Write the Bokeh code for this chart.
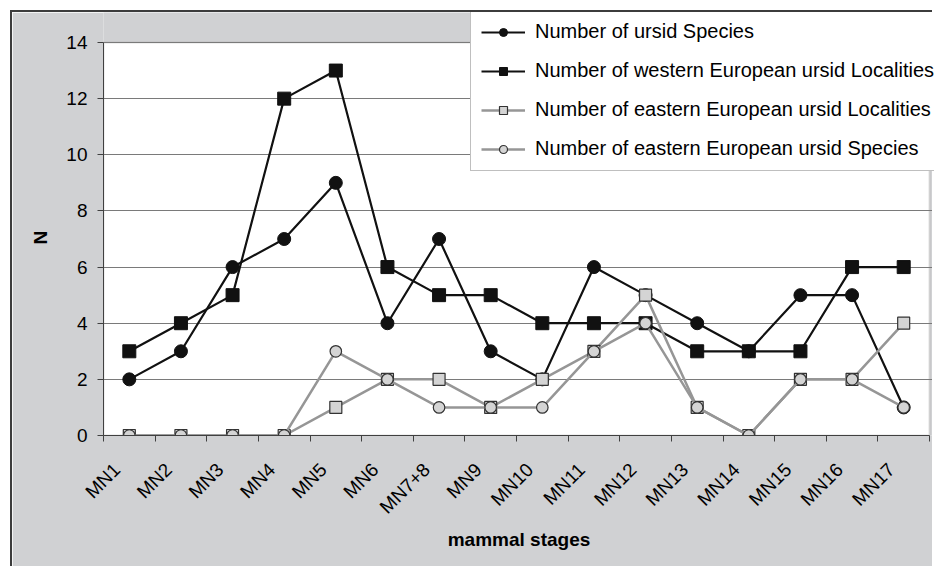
import numpy as np
from bokeh.plotting import figure
from bokeh.models import (Range1d, FixedTicker, Legend, LegendItem, ColumnDataSource,
                          BoxAnnotation, Title)
from bokeh.embed import file_html
from bokeh.resources import INLINE

stages = ["MN1", "MN2", "MN3", "MN4", "MN5", "MN6", "MN7+8", "MN9", "MN10",
          "MN11", "MN12", "MN13", "MN14", "MN15", "MN16", "MN17"]
ursid_species = [2, 3, 6, 7, 9, 4, 7, 3, 2, 6, 5, 4, 3, 5, 5, 1]
west_localities = [3, 4, 5, 12, 13, 6, 5, 5, 4, 4, 4, 3, 3, 3, 6, 6]
east_localities = [0, 0, 0, 0, 1, 2, 2, 1, 2, 3, 5, 1, 0, 2, 2, 4]
east_species = [0, 0, 0, 0, 3, 2, 1, 1, 1, 3, 4, 1, 0, 2, 2, 1]
y_ticks = [0, 2, 4, 6, 8, 10, 12, 14]
Y_MAX = 14

FONT = "Liberation Sans"
BG = "#D0D1D3"

n = len(stages)
xpos = list(np.arange(n) + 0.5)

# layout (pixels)
W, H = 922, 556
LEFT, BOTTOM = 91, 133
PLOT_W, PLOT_H = 826, 393          # white plot area
px_x = PLOT_W / n
px_y = PLOT_H / Y_MAX
frame_w = W - LEFT
frame_h = H - BOTTOM

p = figure(width=W, height=H, output_backend="svg", toolbar_location=None,
           x_range=Range1d(0, frame_w / px_x), y_range=Range1d(0, frame_h / px_y),
           min_border_left=LEFT, min_border_top=0, min_border_right=0,
           min_border_bottom=BOTTOM)
p.styles = {"border-left": "2px solid #3c3c3c", "border-top": "2px solid #3c3c3c",
            "margin-left": "10px", "margin-top": "10px"}
p.border_fill_color = BG
p.background_fill_color = BG
p.outline_line_color = None

plot_area = BoxAnnotation(left=0, right=n, bottom=0, top=Y_MAX,
                          fill_color="white", fill_alpha=1,
                          line_color="#9a9a9a", line_width=2, level="image")
p.add_layout(plot_area)

# x axis
label_shift = -0.24
xa = p.xaxis[0]
xa.bounds = (0, n)
xa.ticker = FixedTicker(ticks=[x + label_shift for x in xpos],
                        minor_ticks=list(range(n + 1)))
xa.major_label_overrides = {float(x + label_shift): s for x, s in zip(xpos, stages)}
xa.major_tick_out = 0
xa.major_tick_in = 0
xa.minor_tick_out = 6
xa.minor_tick_in = 0
xa.minor_tick_line_color = "#404040"
xa.axis_line_color = "#404040"
xa.major_label_orientation = np.pi / 4
xa.major_label_standoff = 25
xa.major_label_text_font = FONT
xa.major_label_text_font_size = "19px"
xa.major_label_text_color = "black"
xa.axis_label = "mammal stages"
xa.axis_label_text_font = FONT
xa.axis_label_text_font_style = "bold"
xa.axis_label_text_font_size = "19px"
xa.axis_label_text_color = "black"
xa.axis_label_standoff = 1

# y axis
ya = p.yaxis[0]
ya.bounds = (0, Y_MAX)
ya.ticker = FixedTicker(ticks=y_ticks)
ya.major_tick_out = 6
ya.major_tick_in = 0
ya.minor_tick_line_color = None
ya.axis_line_color = "#404040"
ya.major_tick_line_color = "#404040"
ya.major_label_standoff = 10
ya.major_label_text_font = FONT
ya.major_label_text_font_size = "19px"
ya.major_label_text_color = "black"

# y axis title, centred on the white plot area
ytitle = Title(text="N", align="left", offset=191, standoff=26,
               text_font=FONT, text_font_style="bold", text_font_size="19px",
               text_color="black")
p.add_layout(ytitle, "left")

p.xgrid.grid_line_color = None
p.ygrid.ticker = FixedTicker(ticks=y_ticks)
p.ygrid.bounds = (0, n)
p.ygrid.grid_line_color = "#7a7a7a"
p.ygrid.grid_line_width = 1

src = ColumnDataSource(dict(x=xpos, s1=ursid_species, s2=west_localities,
                            s3=east_localities, s4=east_species))

l1 = p.line("x", "s1", source=src, line_color="#111111", line_width=2.2)
m1 = p.scatter("x", "s1", source=src, marker="circle", size=13,
               fill_color="#111111", line_color="#111111")
l2 = p.line("x", "s2", source=src, line_color="#111111", line_width=2.2)
m2 = p.scatter("x", "s2", source=src, marker="square", size=13,
               fill_color="#111111", line_color="#111111")
l3 = p.line("x", "s3", source=src, line_color="#969696", line_width=2.5)
m3 = p.scatter("x", "s3", source=src, marker="square", size=12,
               fill_color="#D4D4D4", line_color="#333333", line_width=1.2)
l4 = p.line("x", "s4", source=src, line_color="#969696", line_width=2.5)
m4 = p.scatter("x", "s4", source=src, marker="circle", size=11.5,
               fill_color="#D4D4D4", line_color="#333333", line_width=1.2)

legend = Legend(items=[
    LegendItem(label="Number of ursid Species", renderers=[l1, m1]),
    LegendItem(label="Number of western European ursid Localities", renderers=[l2, m2]),
    LegendItem(label="Number of eastern European ursid Localities", renderers=[l3, m3]),
    LegendItem(label="Number of eastern European ursid Species", renderers=[l4, m4]),
], location=(367, 264))
legend.label_text_font = FONT
legend.label_text_font_size = "20px"
legend.label_text_color = "black"
legend.glyph_width = 44
legend.glyph_height = 20
legend.label_height = 20
legend.label_standoff = 10
legend.spacing = 16
legend.padding = 10
legend.margin = 0
legend.border_line_color = "#808080"
legend.border_line_width = 1
legend.background_fill_color = "white"
legend.background_fill_alpha = 1
p.add_layout(legend, "center")

open("out.html", "w").write(file_html(p, INLINE))
